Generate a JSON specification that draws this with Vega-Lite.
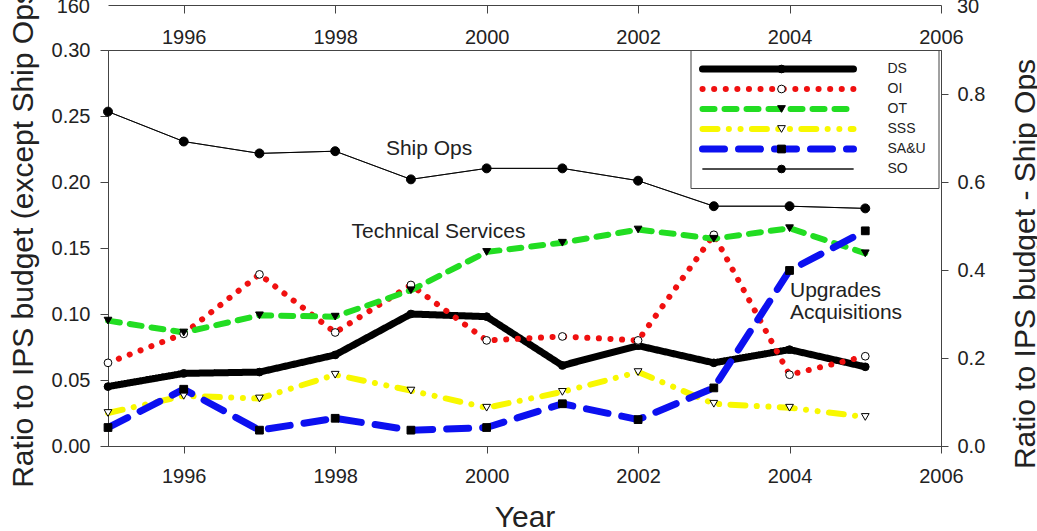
{
  "$schema": "https://vega.github.io/schema/vega-lite/v6.json",
  "width": 833,
  "height": 396,
  "autosize": {"type": "none"},
  "padding": {"left": 108, "top": 50, "right": 96, "bottom": 85},
  "background": "white",
  "config": {
    "font": "Liberation Sans",
    "view": {"stroke": "#444", "strokeWidth": 1},
    "axis": {
      "labelFontSize": 20, "titleFontSize": 30, "titleFontWeight": "normal",
      "labelColor": "#222", "titleColor": "#222",
      "domainColor": "#444", "tickColor": "#444", "grid": false,
      "labelFlush": false, "labelOverlap": false
    },
    "legend": {"labelFontSize": 14, "labelColor": "#222"}
  },
  "datasets": {
    "budget": [
      {"year": 1995, "series": "DS", "value": 0.045},
      {"year": 1996, "series": "DS", "value": 0.055},
      {"year": 1997, "series": "DS", "value": 0.056},
      {"year": 1998, "series": "DS", "value": 0.069},
      {"year": 1999, "series": "DS", "value": 0.100},
      {"year": 2000, "series": "DS", "value": 0.098},
      {"year": 2001, "series": "DS", "value": 0.061},
      {"year": 2002, "series": "DS", "value": 0.076},
      {"year": 2003, "series": "DS", "value": 0.063},
      {"year": 2004, "series": "DS", "value": 0.073},
      {"year": 2005, "series": "DS", "value": 0.060},
      {"year": 1995, "series": "OI", "value": 0.063},
      {"year": 1996, "series": "OI", "value": 0.085},
      {"year": 1997, "series": "OI", "value": 0.130},
      {"year": 1998, "series": "OI", "value": 0.086},
      {"year": 1999, "series": "OI", "value": 0.122},
      {"year": 2000, "series": "OI", "value": 0.080},
      {"year": 2001, "series": "OI", "value": 0.083},
      {"year": 2002, "series": "OI", "value": 0.080},
      {"year": 2003, "series": "OI", "value": 0.160},
      {"year": 2004, "series": "OI", "value": 0.054},
      {"year": 2005, "series": "OI", "value": 0.068},
      {"year": 1995, "series": "OT", "value": 0.095},
      {"year": 1996, "series": "OT", "value": 0.086},
      {"year": 1997, "series": "OT", "value": 0.099},
      {"year": 1998, "series": "OT", "value": 0.098},
      {"year": 1999, "series": "OT", "value": 0.118},
      {"year": 2000, "series": "OT", "value": 0.147},
      {"year": 2001, "series": "OT", "value": 0.154},
      {"year": 2002, "series": "OT", "value": 0.164},
      {"year": 2003, "series": "OT", "value": 0.157},
      {"year": 2004, "series": "OT", "value": 0.165},
      {"year": 2005, "series": "OT", "value": 0.146},
      {"year": 1995, "series": "SSS", "value": 0.025},
      {"year": 1996, "series": "SSS", "value": 0.038},
      {"year": 1997, "series": "SSS", "value": 0.036},
      {"year": 1998, "series": "SSS", "value": 0.054},
      {"year": 1999, "series": "SSS", "value": 0.042},
      {"year": 2000, "series": "SSS", "value": 0.029},
      {"year": 2001, "series": "SSS", "value": 0.041},
      {"year": 2002, "series": "SSS", "value": 0.056},
      {"year": 2003, "series": "SSS", "value": 0.032},
      {"year": 2004, "series": "SSS", "value": 0.029},
      {"year": 2005, "series": "SSS", "value": 0.022},
      {"year": 1995, "series": "SA&U", "value": 0.014},
      {"year": 1996, "series": "SA&U", "value": 0.043},
      {"year": 1997, "series": "SA&U", "value": 0.012},
      {"year": 1998, "series": "SA&U", "value": 0.021},
      {"year": 1999, "series": "SA&U", "value": 0.012},
      {"year": 2000, "series": "SA&U", "value": 0.014},
      {"year": 2001, "series": "SA&U", "value": 0.032},
      {"year": 2002, "series": "SA&U", "value": 0.020},
      {"year": 2003, "series": "SA&U", "value": 0.044},
      {"year": 2004, "series": "SA&U", "value": 0.133},
      {"year": 2005, "series": "SA&U", "value": 0.163},
      {"year": 1995, "series": "SO", "value": 0.760},
      {"year": 1996, "series": "SO", "value": 0.692},
      {"year": 1997, "series": "SO", "value": 0.665},
      {"year": 1998, "series": "SO", "value": 0.670},
      {"year": 1999, "series": "SO", "value": 0.606},
      {"year": 2000, "series": "SO", "value": 0.631},
      {"year": 2001, "series": "SO", "value": 0.631},
      {"year": 2002, "series": "SO", "value": 0.603},
      {"year": 2003, "series": "SO", "value": 0.545},
      {"year": 2004, "series": "SO", "value": 0.545},
      {"year": 2005, "series": "SO", "value": 0.540}
    ]
  },
  "data": {"name": "budget"},
  "layer": [
    {
      "layer": [
        {
          "transform": [{"filter": "datum.series !== 'SO'"}],
          "mark": {"type": "line", "strokeCap": "round", "strokeJoin": "round"},
          "encoding": {
            "x": {"field": "year", "type": "quantitative",
              "scale": {"domain": [1995, 2006], "nice": false, "zero": false},
              "axis": {"orient": "bottom", "values": [1996, 1998, 2000, 2002, 2004, 2006], "format": "d", "title": "Year",
                "tickSize": 7, "labelPadding": 13.5, "titleX": 416.5, "titleY": 80, "titleBaseline": "alphabetic", "titleAlign": "center"}},
            "y": {"field": "value", "type": "quantitative",
              "scale": {"domain": [0, 0.3], "nice": false, "zero": false},
              "axis": {"orient": "left", "values": [0, 0.05, 0.1, 0.15, 0.2, 0.25, 0.3], "format": ".2f",
                "title": "Ratio to IPS budget (except Ship Ops)", "tickSize": 8, "labelPadding": 10,
                "titleX": -76, "titleY": 183, "titleAngle": 270, "titleBaseline": "alphabetic", "titleAlign": "center"}},
            "stroke": {"field": "series", "type": "nominal",
              "scale": {"domain": ["DS", "OI", "OT", "SSS", "SA&U", "SO"], "range": ["#000000", "#f01010", "#22dd22", "#f8f800", "#0c10f0", "#000000"]},
              "legend": {"orient": "none", "legendX": 582.5, "legendY": 0, "title": null, "symbolType": "M-50,0H50", "symbolSize": 9.12, "symbolOffset": 68.5,
                "padding": 12, "rowPadding": 6, "labelOffset": 102.5, "strokeColor": "#444", "fillColor": "white", "labelFontSize": 14,
                "encoding": {"symbols": {"strokeCap": {"value": "round"}, "strokeJoin": {"value": "round"}}}}},
            "strokeDash": {"field": "series", "type": "nominal",
              "scale": {"domain": ["DS", "OI", "OT", "SSS", "SA&U", "SO"], "range": [[1, 0], [0.1, 11.5], [12, 10], [15, 11.3, 0.1, 11.6, 0.1, 11.3], [22, 14], [1, 0]]},
              "legend": {"orient": "none", "legendX": 582.5, "legendY": 0, "title": null, "symbolType": "M-50,0H50", "symbolSize": 9.12, "symbolOffset": 68.5,
                "padding": 12, "rowPadding": 6, "labelOffset": 102.5, "strokeColor": "#444", "fillColor": "white", "labelFontSize": 14,
                "encoding": {"symbols": {"strokeCap": {"value": "round"}, "strokeJoin": {"value": "round"}}}}},
            "strokeWidth": {"field": "series", "type": "nominal",
              "scale": {"type": "ordinal", "domain": ["DS", "OI", "OT", "SSS", "SA&U", "SO"], "range": [7, 6, 6, 6, 7, 1]},
              "legend": {"orient": "none", "legendX": 582.5, "legendY": 0, "title": null, "symbolType": "M-50,0H50", "symbolSize": 9.12, "symbolOffset": 68.5,
                "padding": 12, "rowPadding": 6, "labelOffset": 102.5, "strokeColor": "#444", "fillColor": "white", "labelFontSize": 14,
                "encoding": {"symbols": {"strokeCap": {"value": "round"}, "strokeJoin": {"value": "round"}}}}}
          }
        },
        {
          "transform": [{"filter": "datum.series !== 'SO'"}],
          "mark": {"type": "point", "filled": true, "stroke": "black", "strokeWidth": 1, "size": 60, "opacity": 1},
          "encoding": {
            "x": {"field": "year", "type": "quantitative", "scale": {"domain": [1995, 2006], "nice": false, "zero": false}},
            "y": {"field": "value", "type": "quantitative", "scale": {"domain": [0, 0.3], "nice": false, "zero": false}},
            "shape": {"field": "series", "type": "nominal",
              "scale": {"domain": ["SO", "SA&U", "SSS", "OT", "OI", "DS"], "range": ["circle", "square", "triangle-down", "triangle-down", "circle", "circle"]},
              "legend": {"orient": "none", "legendX": 666.5, "legendY": 12, "title": null, "padding": 0, "rowPadding": 6,
                "values": ["DS", "OI", "OT", "SSS", "SA&U", "SO"], "labelOpacity": 0, "labelFontSize": 14, "symbolSize": 60,
                "symbolStrokeColor": "black", "symbolStrokeWidth": 1,
                "encoding": {"symbols": {"stroke": {"value": "black"}, "strokeWidth": {"value": 1}}}}},
            "fill": {"field": "series", "type": "nominal",
              "scale": {"domain": ["SO", "SA&U", "SSS", "OT", "OI", "DS"], "range": ["black", "black", "white", "black", "white", "black"]},
              "legend": {"orient": "none", "legendX": 666.5, "legendY": 12, "title": null, "padding": 0, "rowPadding": 6,
                "values": ["DS", "OI", "OT", "SSS", "SA&U", "SO"], "labelOpacity": 0, "labelFontSize": 14, "symbolSize": 60,
                "symbolStrokeColor": "black", "symbolStrokeWidth": 1,
                "encoding": {"symbols": {"stroke": {"value": "black"}, "strokeWidth": {"value": 1}}}}}
          }
        },
        {
          "data": {"values": [{}]},
          "mark": {"type": "text", "fontSize": 21, "align": "center", "baseline": "alphabetic", "color": "#222"},
          "encoding": {
            "x": {"datum": 1999.24, "type": "quantitative"},
            "y": {"datum": 0.2205, "type": "quantitative"},
            "text": {"value": "Ship Ops"}
          }
        },
        {
          "data": {"values": [{}]},
          "mark": {"type": "text", "fontSize": 21, "align": "center", "baseline": "alphabetic", "color": "#222"},
          "encoding": {
            "x": {"datum": 1999.364, "type": "quantitative"},
            "y": {"datum": 0.1576, "type": "quantitative"},
            "text": {"value": "Technical Services"}
          }
        },
        {
          "data": {"values": [{}]},
          "mark": {"type": "text", "fontSize": 21, "align": "left", "baseline": "alphabetic", "lineHeight": 22, "color": "#222"},
          "encoding": {
            "x": {"datum": 2004.006, "type": "quantitative"},
            "y": {"datum": 0.1129, "type": "quantitative"},
            "text": {"value": ["Upgrades", "Acquisitions"]}
          }
        },
        {
          "data": {"values": [{}]},
          "mark": {"type": "text", "fontSize": 20, "align": "right", "baseline": "alphabetic", "dx": -18, "color": "#222"},
          "encoding": {
            "x": {"datum": 1995, "type": "quantitative"},
            "y": {"datum": 0.328, "type": "quantitative"},
            "text": {"value": "160"}
          }
        },
        {
          "data": {"values": [{}]},
          "mark": {"type": "text", "fontSize": 20, "align": "left", "baseline": "alphabetic", "dx": 16, "color": "#222"},
          "encoding": {
            "x": {"datum": 2006, "type": "quantitative"},
            "y": {"datum": 0.328, "type": "quantitative"},
            "text": {"value": "30"}
          }
        }
      ]
    },
    {
      "transform": [{"filter": "datum.series === 'SO'"}],
      "layer": [
        {
          "mark": {"type": "line", "strokeCap": "round", "strokeJoin": "round"},
          "encoding": {
            "x": {"field": "year", "type": "quantitative",
              "scale": {"domain": [1995, 2006], "nice": false, "zero": false},
              "axis": {"orient": "top", "offset": 45, "values": [1996, 1998, 2000, 2002, 2004, 2006], "format": "d", "title": null,
                "tickSize": -8, "labelPadding": -30, "labelBaseline": "alphabetic"}},
            "y": {"field": "value", "type": "quantitative",
              "scale": {"domain": [0, 0.9], "nice": false, "zero": false},
              "axis": {"orient": "right", "values": [0, 0.2, 0.4, 0.6, 0.8], "format": ".1f",
                "title": "Ratio to IPS budget - Ship Ops", "tickSize": 7, "labelPadding": 9,
                "titleAngle": 270, "titleX": 93, "titleY": 213.5, "titleBaseline": "alphabetic", "titleAlign": "center"}},
            "stroke": {"field": "series", "type": "nominal",
              "scale": {"domain": ["DS", "OI", "OT", "SSS", "SA&U", "SO"], "range": ["#000000", "#f01010", "#22dd22", "#f8f800", "#0c10f0", "#000000"]},
              "legend": {"orient": "none", "legendX": 582.5, "legendY": 0, "title": null, "symbolType": "M-50,0H50", "symbolSize": 9.12, "symbolOffset": 68.5,
                "padding": 12, "rowPadding": 6, "labelOffset": 102.5, "strokeColor": "#444", "fillColor": "white", "labelFontSize": 14,
                "encoding": {"symbols": {"strokeCap": {"value": "round"}, "strokeJoin": {"value": "round"}}}}},
            "strokeDash": {"field": "series", "type": "nominal",
              "scale": {"domain": ["DS", "OI", "OT", "SSS", "SA&U", "SO"], "range": [[1, 0], [0.1, 11.5], [12, 10], [15, 11.3, 0.1, 11.6, 0.1, 11.3], [22, 14], [1, 0]]},
              "legend": {"orient": "none", "legendX": 582.5, "legendY": 0, "title": null, "symbolType": "M-50,0H50", "symbolSize": 9.12, "symbolOffset": 68.5,
                "padding": 12, "rowPadding": 6, "labelOffset": 102.5, "strokeColor": "#444", "fillColor": "white", "labelFontSize": 14,
                "encoding": {"symbols": {"strokeCap": {"value": "round"}, "strokeJoin": {"value": "round"}}}}},
            "strokeWidth": {"field": "series", "type": "nominal",
              "scale": {"type": "ordinal", "domain": ["DS", "OI", "OT", "SSS", "SA&U", "SO"], "range": [7, 6, 6, 6, 7, 1]},
              "legend": {"orient": "none", "legendX": 582.5, "legendY": 0, "title": null, "symbolType": "M-50,0H50", "symbolSize": 9.12, "symbolOffset": 68.5,
                "padding": 12, "rowPadding": 6, "labelOffset": 102.5, "strokeColor": "#444", "fillColor": "white", "labelFontSize": 14,
                "encoding": {"symbols": {"strokeCap": {"value": "round"}, "strokeJoin": {"value": "round"}}}}}
          }
        },
        {
          "mark": {"type": "point", "filled": true, "stroke": "black", "strokeWidth": 1, "size": 80, "opacity": 1},
          "encoding": {
            "x": {"field": "year", "type": "quantitative", "scale": {"domain": [1995, 2006], "nice": false, "zero": false}},
            "y": {"field": "value", "type": "quantitative", "scale": {"domain": [0, 0.9], "nice": false, "zero": false}},
            "shape": {"field": "series", "type": "nominal",
              "scale": {"domain": ["SO", "SA&U", "SSS", "OT", "OI", "DS"], "range": ["circle", "square", "triangle-down", "triangle-down", "circle", "circle"]},
              "legend": {"orient": "none", "legendX": 666.5, "legendY": 12, "title": null, "padding": 0, "rowPadding": 6,
                "values": ["DS", "OI", "OT", "SSS", "SA&U", "SO"], "labelOpacity": 0, "labelFontSize": 14, "symbolSize": 60,
                "symbolStrokeColor": "black", "symbolStrokeWidth": 1,
                "encoding": {"symbols": {"stroke": {"value": "black"}, "strokeWidth": {"value": 1}}}}},
            "fill": {"field": "series", "type": "nominal",
              "scale": {"domain": ["SO", "SA&U", "SSS", "OT", "OI", "DS"], "range": ["black", "black", "white", "black", "white", "black"]},
              "legend": {"orient": "none", "legendX": 666.5, "legendY": 12, "title": null, "padding": 0, "rowPadding": 6,
                "values": ["DS", "OI", "OT", "SSS", "SA&U", "SO"], "labelOpacity": 0, "labelFontSize": 14, "symbolSize": 60,
                "symbolStrokeColor": "black", "symbolStrokeWidth": 1,
                "encoding": {"symbols": {"stroke": {"value": "black"}, "strokeWidth": {"value": 1}}}}}
          }
        }
      ]
    }
  ],
  "resolve": {"scale": {"y": "independent"}}
}
